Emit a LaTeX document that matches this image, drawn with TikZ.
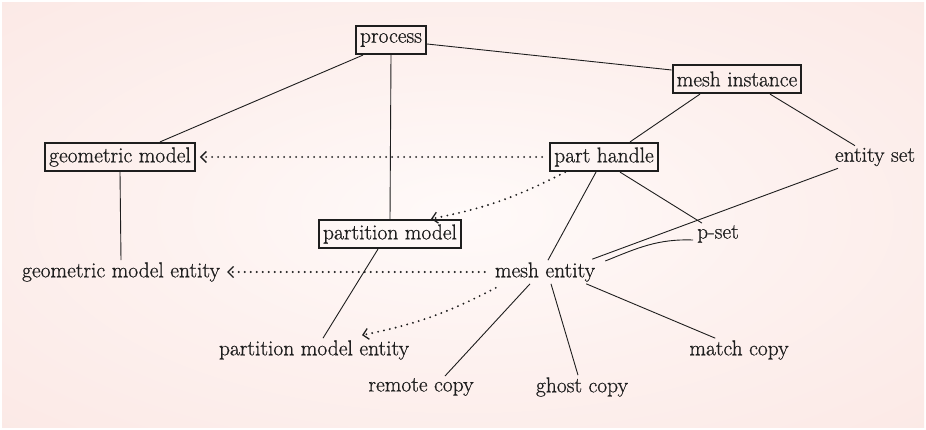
\documentclass[tikz,border=0pt]{standalone}
\usepackage{fontspec}
\setmainfont{Latin Modern Roman}[FakeBold=0.7]
\usetikzlibrary{arrows.meta,calc}
\definecolor{bgin}{HTML}{FFFAF9}
\definecolor{bgmid}{HTML}{FAE3DF}
\definecolor{bgout}{HTML}{F7D8D3}
\definecolor{ink}{HTML}{1E1E1E}
\pgfdeclareradialshading{softglow}{\pgfpoint{0bp}{0bp}}{%
  color(0bp)=(bgin); color(18bp)=(bgin!60!bgmid); color(50bp)=(bgmid); color(72bp)=(bgout)}
\tikzset{
  lbl/.style={font=\fontsize{21.5}{24}\selectfont, text=ink},
  boxed/.style={lbl, draw=ink, line width=2.2pt, inner xsep=4pt, inner ysep=2pt,
    minimum height=28pt},
  plain/.style={lbl, inner sep=2pt},
  link/.style={draw=ink, line width=0.9pt},
  ref/.style={draw=ink, line width=2.1pt, line cap=round, dash pattern=on 0pt off 6pt,
    -{Straight Barb[length=5.5pt,width=11pt,line width=1.3pt]}},
}
\begin{document}
\begin{tikzpicture}[x=1pt,y=-1pt]
  % backdrop
  \useasboundingbox (0,0) rectangle (926,429);
  \fill[white] (0,0) rectangle (926,429);
  \shade[shading=softglow] (2,2) rectangle (924,427);

  % boxed entities
  \node[boxed] (process) at (391,40) {process};
  \node[boxed] (meshinst) at (737,79) {mesh instance};
  \node[boxed] (geo) at (120,157) {geometric model};
  \node[boxed] (part) at (604,157) {part handle};
  \node[boxed] (partition) at (390,234) {partition model};

  % plain labels
  \node[plain] (entset) at (875,157) {entity set};
  \node[plain] (pset) at (718,234) {p-set};
  \node[plain] (geoent) at (121,272) {geometric model entity};
  \node[plain] (mesh) at (545,272) {mesh entity};
  \node[plain] (partent) at (314,350) {partition model entity};
  \node[plain] (match) at (739,350) {match copy};
  \node[plain] (remote) at (421,387) {remote copy};
  \node[plain] (ghost) at (582,387) {ghost copy};

  % solid connectors
  \draw[link] ($(process.south west)+(8,0)$) -- ($(geo.north)+(40,0)$);
  \draw[link] (process.south) -- (partition.north);
  \draw[link] ($(process.east)+(0,4)$) -- ($(meshinst.west)+(0,-9)$);
  \draw[link] ($(meshinst.south)+(-37,0)$) -- ($(part.north)+(26,0)$);
  \draw[link] ($(meshinst.south)+(33,0)$) -- ($(entset.north)+(-20,0)$);
  \draw[link] ($(part.south)+(-8,0)$) -- ($(mesh.north)+(3,0)$);
  \draw[link] ($(part.south)+(16,0)$) -- ($(pset.north)+(-16,0)$);
  \draw[link] ($(entset.south)+(-37,0)$) -- ($(mesh.north east)+(-5,-1)$);
  \draw[link] ($(pset.west)+(-2,6)$) to[out=178,in=22] ($(mesh.east)+(8,-11)$);
  \draw[link] (geo.south) -- (geoent.north);
  \draw[link] ($(partition.south)+(-12,0)$) -- ($(partent.north)+(9,0)$);
  \draw[link] ($(mesh.south)+(-15,0)$) -- ($(remote.north)+(24,0)$);
  \draw[link] ($(mesh.south)+(6,0)$) -- ($(ghost.north)+(-4,0)$);
  \draw[link] ($(mesh.south east)+(-11,0)$) -- ($(match.north west)+(28,0)$);

  % dotted references
  \draw[ref] ($(part.west)+(-7,0)$) -- ($(geo.east)+(4,0)$);
  \draw[ref] ($(part.south west)+(16,0)$) to[bend left=8] ($(partition.north east)+(-31,0)$);
  \draw[ref] ($(mesh.west)+(-8,0)$) -- ($(geoent.east)+(5,0)$);
  \draw[ref] ($(mesh.south west)+(3,4)$) to[bend left=8] ($(partent.north)+(48,-3)$);
\end{tikzpicture}
\end{document}
